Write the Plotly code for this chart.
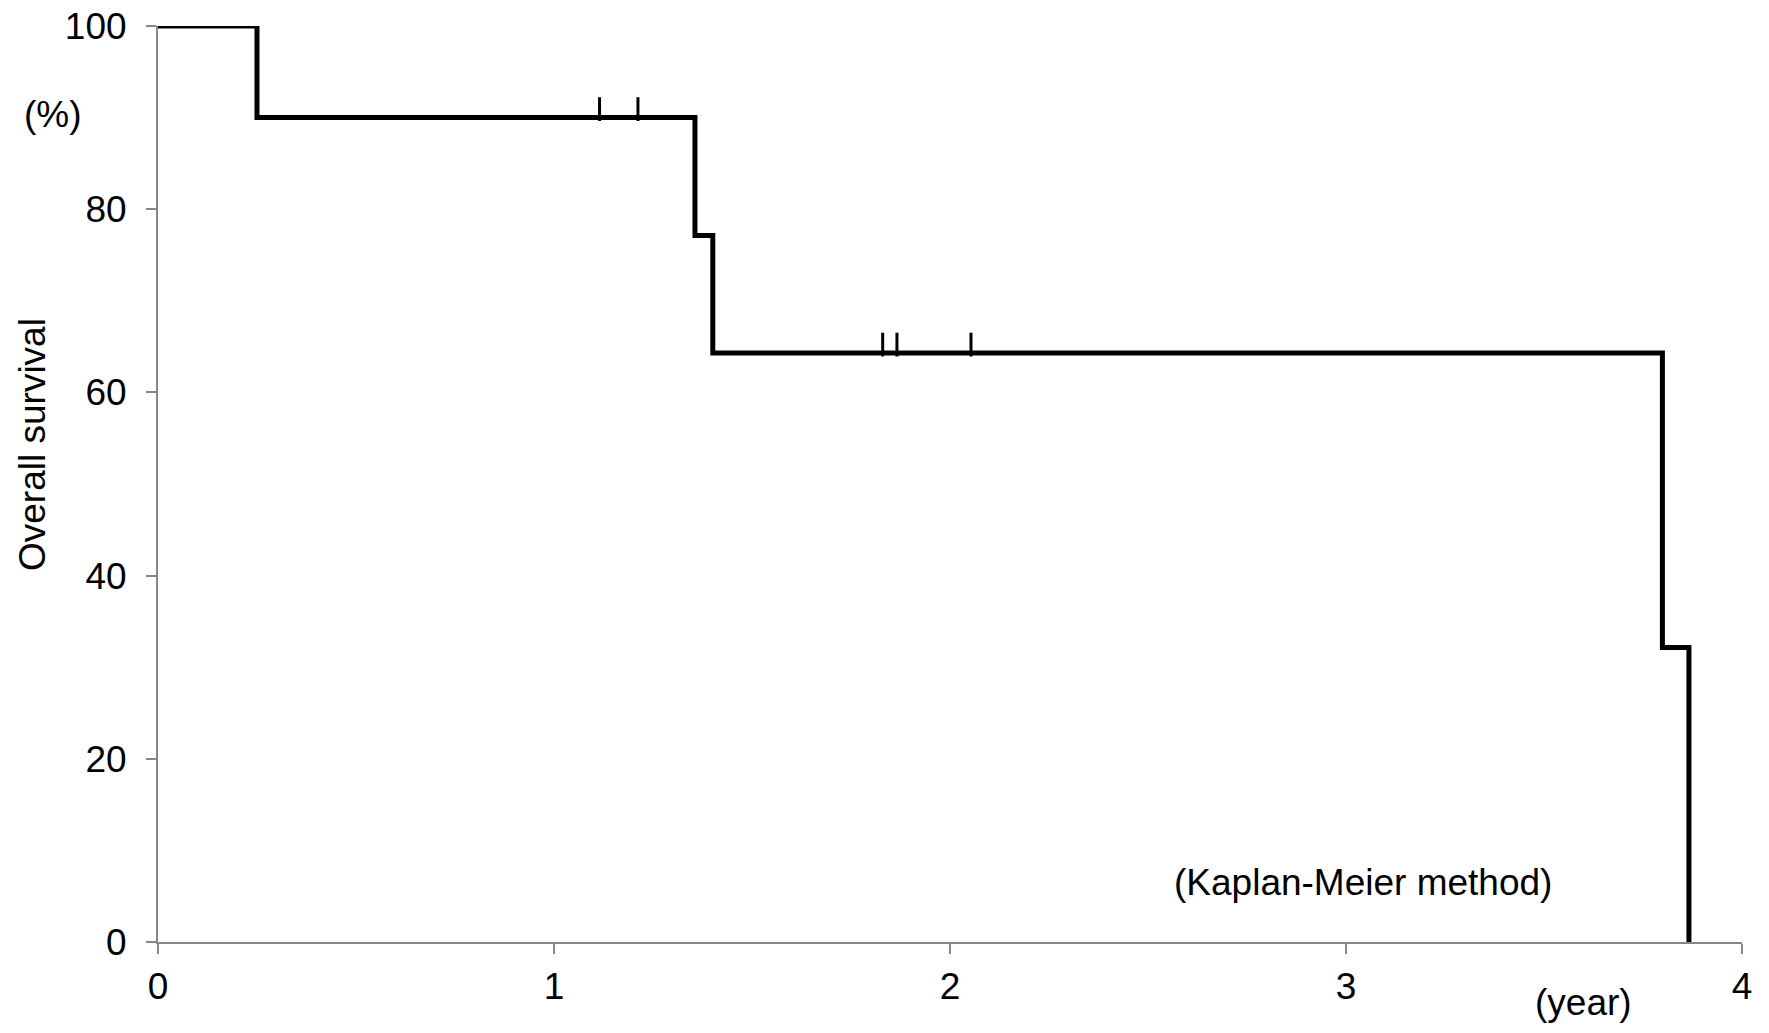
import plotly.graph_objects as go

# Kaplan-Meier step data (years, % survival)
step_times = [0, 0.25, 1.356, 1.401, 3.799, 3.866]
step_surv = [100, 90, 77.14, 64.29, 32.14, 0]

# Censored observations
censor_times = [1.115, 1.212, 1.830, 1.866, 2.053]
censor_surv = [90, 90, 64.29, 64.29, 64.29]

x_ticks = [0, 1, 2, 3, 4]
y_ticks = [0, 20, 40, 60, 80, 100]

W, H = 1769, 1033
L, T = 158, 26
PW, PH = 1584, 916
R, B = W - L - PW, H - T - PH
px_per_unit = PH / 100.0
censor_half = 8.5 / px_per_unit  # vertical censor tick rises ~17px above the curve

FONT = "Liberation Sans, Arial, sans-serif"
FS = 37

fig = go.Figure()
fig.add_trace(go.Scatter(
    x=step_times, y=step_surv, mode="lines",
    line=dict(color="black", width=5, shape="hv"),
    showlegend=False, hoverinfo="skip",
))
fig.add_trace(go.Scatter(
    x=censor_times, y=[s + censor_half for s in censor_surv], mode="markers",
    marker=dict(symbol="line-ns", size=17, line=dict(color="black", width=3)),
    showlegend=False, hoverinfo="skip",
))

fig.update_layout(
    width=W, height=H,
    margin=dict(l=L, r=R, t=T, b=B, pad=0, autoexpand=False),
    paper_bgcolor="white", plot_bgcolor="white",
    font=dict(family=FONT, size=FS, color="black"),
    xaxis=dict(
        range=[0, 4], tickvals=x_ticks, ticktext=[str(v) for v in x_ticks],
        showgrid=False, zeroline=False, showline=True, linecolor="#878787", linewidth=2,
        ticks="outside", ticklen=10, tickwidth=2, tickcolor="#878787",
        tickfont=dict(family=FONT, size=FS, color="black"), ticklabelstandoff=1,
        automargin=False, ticklabeloverflow="allow",
    ),
    yaxis=dict(
        range=[0, 100], tickvals=y_ticks, ticktext=[str(v) for v in y_ticks],
        showgrid=False, zeroline=False, showline=True, linecolor="#878787", linewidth=2,
        ticks="outside", ticklen=10, tickwidth=2, tickcolor="#878787",
        tickfont=dict(family=FONT, size=FS, color="black"), ticklabelstandoff=12,
        automargin=False, ticklabeloverflow="allow",
    ),
)

# positions given in screen pixels of the reference
def px_x(p):
    return (p - L) / PW

def px_y(p):
    return (T + PH - p) / PH

annots = [
    dict(text="(%)", x=px_x(53), y=px_y(115)),
    dict(text="(year)", x=px_x(1583), y=px_y(1002)),
    dict(text="(Kaplan-Meier method)", x=px_x(1363), y=px_y(882)),
    dict(text="Overall survival", x=px_x(32), y=px_y(445), textangle=-90),
]
for a in annots:
    fig.add_annotation(xref="paper", yref="paper", showarrow=False,
                       xanchor="center", yanchor="middle",
                       font=dict(family=FONT, size=FS, color="black"), **a)

fig.write_html(
    "out.html",
    config={"displayModeBar": False},
    post_script="document.body.style.margin='0';document.body.style.overflow='hidden';",
)
